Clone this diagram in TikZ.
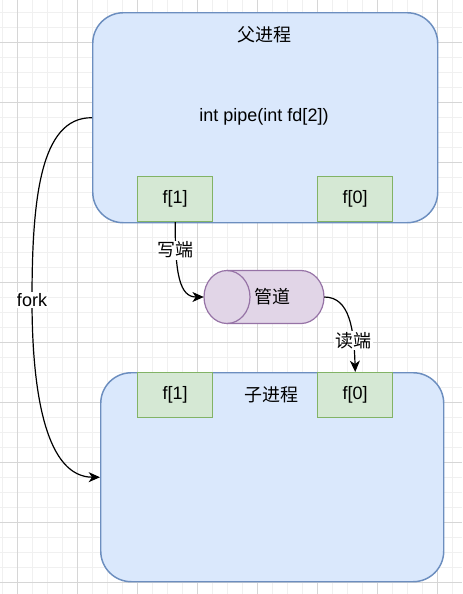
\documentclass[tikz,border=0pt]{standalone}
\usepackage{fontspec}
\setmainfont{Liberation Sans}
\newfontfamily\cjk{Noto Sans CJK SC}
\usepackage{tikz}
\usetikzlibrary{positioning,arrows.meta}

\definecolor{procfill}{HTML}{DAE8FC}
\definecolor{procdraw}{HTML}{6C8EBF}
\definecolor{fdfill}{HTML}{D5E8D4}
\definecolor{fddraw}{HTML}{82B366}
\definecolor{pipefill}{HTML}{E1D5E7}
\definecolor{pipedraw}{HTML}{9673A6}
\definecolor{gridmajor}{HTML}{D6D6D6}
\definecolor{gridminor}{HTML}{F0F0F0}

\tikzset{
	process/.style={draw=procdraw,fill=procfill,line width=1.1pt,rounded corners=23pt,
		inner sep=0pt,minimum width=#1},
	process/.default=258.75pt,
	fdbox/.style={draw=fddraw,fill=fdfill,line width=1.1pt,inner sep=0pt,
		minimum width=56.25pt,minimum height=33.75pt},
	pipebox/.style={inner sep=0pt,minimum width=90pt,minimum height=39.75pt},
	pipeline/.style={draw=pipedraw,line width=0.9pt},
	link/.style={line width=0.9pt,-{Stealth[length=8.5pt,width=7.5pt,inset=2.5pt]}},
	tag/.style={fill=white,inner sep=1pt}
}

\begin{document}
\begin{tikzpicture}[x=0.75pt,y=-0.75pt,font=\fontsize{13.5pt}{16pt}\selectfont]
		\useasboundingbox (0,0) rectangle (462,594);
		% canvas grid
		\foreach \g in {2,17,...,452}
			\draw[gridminor,line width=0.75pt] (\g,0) -- (\g,594);
		\foreach \g in {12,27,...,592}
			\draw[gridminor,line width=0.75pt] (0,\g) -- (462,\g);
		\foreach \g in {17,77,...,437}
			\draw[gridmajor,line width=0.75pt] (\g,0) -- (\g,594);
		\foreach \g in {42,102,...,582}
			\draw[gridmajor,line width=0.75pt] (0,\g) -- (462,\g);

		\begin{scope}
			% parent
			\node(p) [process,minimum height=157.5pt,anchor=north west] at (92,12) {};
			\node(pt) at (264,35) {\cjk 父进程};
			\node(pc) at (264,117) {int pipe(int fd[2])};
			\node(pf1) [fdbox,anchor=south west] at (137,222) {f[1]};
			\node(pf0) [fdbox,anchor=south west] at (317,222) {f[0]};
			% child
			\node(c) [process=257.25pt,minimum height=156.75pt,anchor=north west] at (100,372) {};
			\node(ct) at (271,395) {\cjk 子进程};
			\node(cf1) [fdbox,anchor=north west] at (137,372) {f[1]};
			\node(cf0) [fdbox,anchor=north west] at (317,372) {f[0]};
			% pipe (cylinder lying on its side)
			\node(pp) [pipebox] at (264,297) {};
			\path[pipeline,fill=pipefill] (227,270.5) -- (301,270.5)
				arc(90:-90:17.25pt and 19.875pt) -- (227,323.5)
				arc(270:90:17.25pt and 19.875pt) -- cycle;
			\draw[pipeline] (227,270.5) arc(90:-90:17.25pt and 19.875pt);
			\node(ppt) at (272,297) {\cjk 管道};

			\draw[link] (pf1.south) .. controls (175,275) and (180,297) .. (pp.west)
				node[tag,pos=0.2] {\cjk 写端};
			\draw[link] (pp.east) .. controls (350,297) and (354,330) .. (cf0.north)
				node[tag,pos=0.73] {\cjk 读端};
			\draw[link] (p.west) .. controls (40,117) and (32,200) .. (32,300)
				node[tag] {fork}
				.. controls (32,400) and (48,477) .. (c.west);
		\end{scope}
	\end{tikzpicture}
\end{document}
